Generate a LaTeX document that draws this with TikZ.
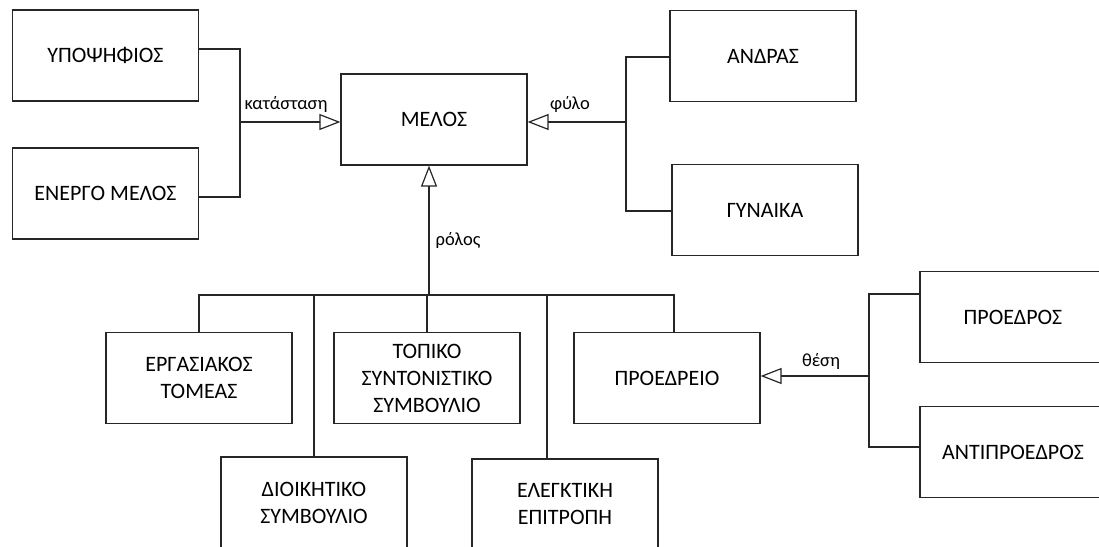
\documentclass[tikz,border=0pt]{standalone}
\usepackage{fontspec}
\setmainfont{Carlito}
\usetikzlibrary{arrows.meta}
\tikzset{
  entity/.style={draw=black!85, line width=1.2pt, minimum width=186pt, minimum height=91pt,
    align=center, inner sep=2pt, font=\fontsize{22}{27}\selectfont, text=black},
  link/.style={draw=black!85, line width=1.2pt},
  isa/.style={link, -{Triangle[open, length=21pt, width=16pt, line width=1.2pt]}},
  tag/.style={font=\fontsize{18.5}{22}\selectfont, text=black, inner sep=0pt}
}
\begin{document}
\begin{tikzpicture}[x=1pt, y=-1pt]
\useasboundingbox (0,0) rectangle (1099,546);
\clip (0,0) rectangle (1099,546);

% entities
\node[entity] (ypo)     at (105.5,55.5)  {ΥΠΟΨΗΦΙΟΣ};
\node[entity] (energo)  at (105.5,193.5) {ΕΝΕΡΓΟ ΜΕΛΟΣ};
\node[entity] (melos)   at (434,119.5)   {ΜΕΛΟΣ};
\node[entity] (andras)  at (763,56)      {ΑΝΔΡΑΣ};
\node[entity] (gynaika) at (765,210)     {ΓΥΝΑΙΚΑ};
\node[entity] (ergas)   at (199,378)     {ΕΡΓΑΣΙΑΚΟΣ\\ΤΟΜΕΑΣ};
\node[entity] (topiko)  at (427,378)     {ΤΟΠΙΚΟ\\ΣΥΝΤΟΝΙΣΤΙΚΟ\\ΣΥΜΒΟΥΛΙΟ};
\node[entity] (proedreio) at (667,378)   {ΠΡΟΕΔΡΕΙΟ};
\node[entity] (dioik)   at (314,502.5)   {ΔΙΟΙΚΗΤΙΚΟ\\ΣΥΜΒΟΥΛΙΟ};
\node[entity] (elegk)   at (565,504.5)   {ΕΛΕΓΚΤΙΚΗ\\ΕΠΙΤΡΟΠΗ};
\node[entity] (proedros) at (1013,317)   {ΠΡΟΕΔΡΟΣ};
\node[entity] (antipr)  at (1013,452)    {ΑΝΤΙΠΡΟΕΔΡΟΣ};

% junction points
\coordinate (jstate) at (240,122);
\coordinate (jsex)   at (626,122);
\coordinate (jrole)  at (429,295);
\coordinate (jpos)   at (869,376);

% κατάσταση
\draw[link] (ypo.east |- 0,49) -| (jstate) |- (energo.east |- 0,197);
\draw[isa] (jstate) -- (melos.west |- jstate);
\node[tag] (lstate) at (286,104) {κατάσταση};

% φύλο
\draw[link] (andras.west |- 0,57) -| (jsex) |- (gynaika.west |- 0,211);
\draw[isa] (jsex) -- (melos.east |- jsex);
\node[tag] (lsex) at (570,104) {φύλο};

% ρόλος
\coordinate (busL) at (ergas.north |- jrole);
\coordinate (busR) at (674,295);
\draw[link] (ergas.north) -- (busL) -- (busR) -- (busR |- proedreio.north);
\draw[link] (dioik.north) -- (dioik.north |- jrole);
\draw[link] (topiko.north) -- (topiko.north |- jrole);
\draw[link] (547,295) -- (547,0 |- elegk.north);
\draw[isa] (jrole) -- (jrole |- melos.south);
\node[tag] (lrole) at (458,240) {ρόλος};

% θέση
\draw[link] (proedros.west |- 0,294) -| (jpos) |- (antipr.west |- 0,447);
\draw[isa] (jpos) -- (proedreio.east |- jpos);
\node[tag] (lpos) at (821,361) {θέση};
\end{tikzpicture}
\end{document}
